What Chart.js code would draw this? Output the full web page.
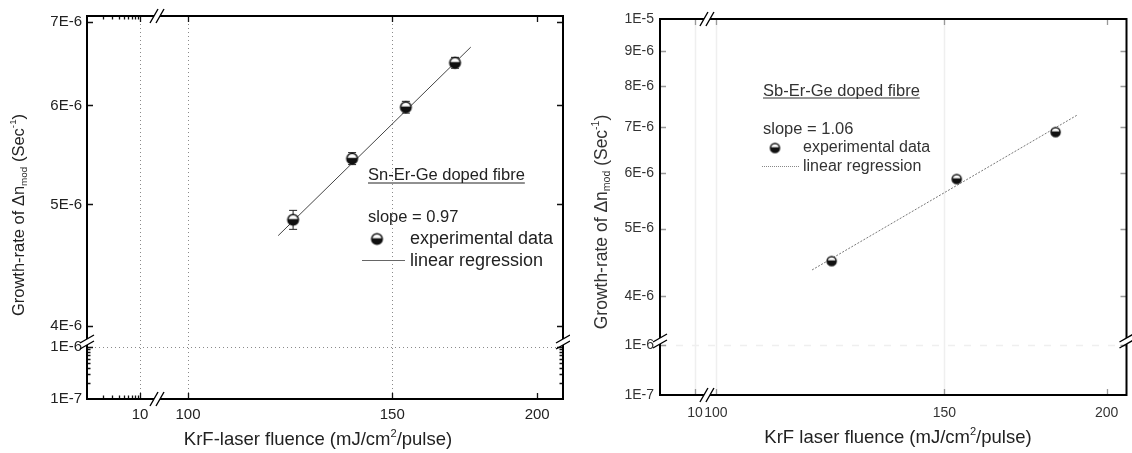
<!DOCTYPE html>
<html>
<head>
<meta charset="utf-8">
<script src="https://cdn.jsdelivr.net/npm/chart.js@4.4.0/dist/chart.umd.min.js"></script>
<style>
  html, body { margin: 0; padding: 0; background: #fff; }
  #wrap { position: relative; width: 1132px; height: 453px; }
  .box { position: absolute; top: 0; height: 453px; }
  #boxL { left: 0; width: 570px; }
  #boxR { left: 570px; width: 562px; }
</style>
</head>
<body>
<div id="wrap">
  <div class="box" id="boxL"><canvas id="leftChart"></canvas></div>
  <div class="box" id="boxR"><canvas id="rightChart"></canvas></div>
</div>
<script>
const log = Math.log10;

// Sn-Er-Ge doped fibre (left panel)
const snFluence = [123.2, 138.5, 154.1, 169.9];
const snRate = [4.86e-6, 5.44e-6, 5.98e-6, 6.49e-6];
const snErr = [0.085e-6, 0.06e-6, 0.065e-6, 0.065e-6];
const snFitFluence = [119.6, 175.3];
const snFitRate = [4.72e-6, 6.68e-6];

// Sb-Er-Ge doped fibre (right panel)
const sbFluence = [122.8, 153.3, 182.7];
const sbRate = [4.49e-6, 5.89e-6, 6.88e-6];
const sbFitFluence = [118.6, 189.9];
const sbFitRate = [4.36e-6, 7.28e-6];

// tick labels
const xTicksL = [10, 100, 150, 200];
const xLabelsL = ["10", "100", "150", "200"];
const yTicksL = [1e-7, 1e-6, 4e-6, 5e-6, 6e-6, 7e-6];
const yLabelsL = ["1E-7", "1E-6", "4E-6", "5E-6", "6E-6", "7E-6"];
const xTicksR = [10, 100, 150, 200];
const xLabelsR = ["10", "100", "150", "200"];
const yTicksR = [1e-7, 1e-6, 4e-6, 5e-6, 6e-6, 7e-6, 8e-6, 9e-6, 1e-5];
const yLabelsR = ["1E-7", "1E-6", "4E-6", "5E-6", "6E-6", "7E-6", "8E-6", "9E-6", "1E-5"];
const minorDigits = [2, 3, 4, 5, 6, 7, 8, 9];

// broken log axes: short decade below the break, stretched log scale above it
const xLeft = v => v <= 10 ? 53 * log(v) : 101 + 1160 * log(v / 100);
const yLeft = v => v <= 1e-6 ? 52 * log(v / 1e-7) : 73.5 + 1250 * log(v / 4e-6);
const xRight = v => v <= 10 ? 35 * log(v) : 56 + 1299 * log(v / 100);
const yRight = v => v <= 1e-6 ? 50 * log(v / 1e-7) : 99 + 696 * log(v / 4e-6);

const FONT = "'Liberation Sans', Arial, sans-serif";

function halfDot(r) {
  const c = document.createElement("canvas");
  const s = Math.ceil(2 * r + 4);
  c.width = c.height = s;
  const g = c.getContext("2d");
  const m = s / 2;
  g.fillStyle = "#fff";
  g.beginPath(); g.arc(m, m, r, 0, 2 * Math.PI); g.fill();
  g.fillStyle = "#111";
  g.beginPath(); g.arc(m, m, r, -0.15, Math.PI + 0.15); g.closePath(); g.fill();
  g.strokeStyle = "#111"; g.lineWidth = 1.5;
  g.beginPath(); g.arc(m, m, r, 0, 2 * Math.PI); g.stroke();
  return c;
}
const dotL = halfDot(5.3);
const dotR = halfDot(4.5);

// text with sub/superscripts: parts = [text, scale, shift(em)]
function richText(ctx, parts, cx, cy, size, color) {
  ctx.save();
  ctx.fillStyle = color;
  ctx.textBaseline = "middle";
  ctx.textAlign = "left";
  let w = 0;
  parts.forEach(p => { ctx.font = (size * p[1]) + "px " + FONT; w += ctx.measureText(p[0]).width; });
  let x = cx - w / 2;
  parts.forEach(p => {
    ctx.font = (size * p[1]) + "px " + FONT;
    ctx.fillText(p[0], x, cy + p[2] * size);
    x += ctx.measureText(p[0]).width;
  });
  ctx.restore();
}

function plainText(ctx, t, x, y, size, color, underline) {
  ctx.save();
  ctx.font = size + "px " + FONT;
  ctx.fillStyle = color;
  ctx.textBaseline = "middle";
  ctx.fillText(t, x, y);
  if (underline) {
    const w = ctx.measureText(t).width;
    ctx.strokeStyle = color; ctx.lineWidth = 1;
    ctx.beginPath(); ctx.moveTo(x, y + underline); ctx.lineTo(x + w, y + underline); ctx.stroke();
  }
  ctx.restore();
}

function makeDeco(cfg) {
  return {
    id: "deco",
    beforeDatasetsDraw(chart) {
      const ctx = chart.ctx, a = chart.chartArea;
      const sx = chart.scales.x, sy = chart.scales.y;
      ctx.save();
      ctx.strokeStyle = cfg.gridColor;
      ctx.lineWidth = cfg.gridWidth;
      ctx.setLineDash(cfg.gridDash);
      cfg.xGrid.forEach(v => {
        const px = Math.round(sx.getPixelForValue(cfg.xf(v))) + 0.5;
        ctx.beginPath(); ctx.moveTo(px, a.top); ctx.lineTo(px, a.bottom); ctx.stroke();
      });
      ctx.setLineDash(cfg.hGridDash);
      cfg.yGrid.forEach(v => {
        const py = Math.round(sy.getPixelForValue(cfg.yf(v))) + 0.5;
        ctx.beginPath(); ctx.moveTo(a.left, py); ctx.lineTo(a.right, py); ctx.stroke();
      });
      ctx.setLineDash([]);
      // error bars
      if (cfg.err) {
        ctx.strokeStyle = "#222"; ctx.lineWidth = 1;
        cfg.err.x.forEach((xv, i) => {
          const px = sx.getPixelForValue(cfg.xf(xv));
          const hi = sy.getPixelForValue(cfg.yf(cfg.err.y[i] + cfg.err.e[i]));
          const lo = sy.getPixelForValue(cfg.yf(cfg.err.y[i] - cfg.err.e[i]));
          ctx.beginPath();
          ctx.moveTo(px, hi); ctx.lineTo(px, lo);
          ctx.moveTo(px - 4, hi); ctx.lineTo(px + 4, hi);
          ctx.moveTo(px - 4, lo); ctx.lineTo(px + 4, lo);
          ctx.stroke();
        });
      }
      ctx.restore();
    },
    afterDatasetsDraw(chart) {
      const ctx = chart.ctx, a = chart.chartArea;
      const sx = chart.scales.x, sy = chart.scales.y;
      ctx.save();
      // inward tick marks
      ctx.strokeStyle = cfg.tickColor; ctx.lineWidth = 1.3;
      const xt = (v, len) => {
        const px = Math.round(sx.getPixelForValue(cfg.xf(v))) + 0.5;
        if (px < a.left + 2 || px > a.right - 2) return;
        ctx.beginPath();
        ctx.moveTo(px, a.bottom); ctx.lineTo(px, a.bottom - len);
        ctx.moveTo(px, a.top); ctx.lineTo(px, a.top + len);
        ctx.stroke();
      };
      const yt = (v, len) => {
        const py = Math.round(sy.getPixelForValue(cfg.yf(v))) + 0.5;
        if (py < a.top + 2 || py > a.bottom - 2) return;
        ctx.beginPath();
        ctx.moveTo(a.left, py); ctx.lineTo(a.left + len, py);
        ctx.moveTo(a.right, py); ctx.lineTo(a.right - len, py);
        ctx.stroke();
      };
      cfg.xMajor.forEach(v => xt(v, 6));
      cfg.xMinor.forEach(v => xt(v, 3.5));
      cfg.yMajor.forEach(v => yt(v, 6));
      cfg.yMinor.forEach(v => yt(v, 3.5));

      // frame
      ctx.strokeStyle = "#000"; ctx.lineWidth = 2;
      ctx.strokeRect(a.left, a.top, a.right - a.left, a.bottom - a.top);

      // axis breaks
      const bx = sx.getPixelForValue(cfg.xBreak);
      const by = sy.getPixelForValue(cfg.yBreak);
      ctx.lineWidth = 1.4;
      [a.top, a.bottom].forEach(y0 => {
        ctx.fillStyle = "#fff";
        ctx.fillRect(bx - 3, y0 - 2, 6, 4);
        ctx.beginPath();
        [-3, 3].forEach(d => { ctx.moveTo(bx + d - 4, y0 + 7); ctx.lineTo(bx + d + 4, y0 - 7); });
        ctx.stroke();
      });
      [a.left, a.right].forEach(x0 => {
        ctx.fillStyle = "#fff";
        ctx.fillRect(x0 - 2, by - 3, 4, 6);
        ctx.beginPath();
        [-3, 3].forEach(d => { ctx.moveTo(x0 - 7, by + d + 4); ctx.lineTo(x0 + 7, by + d - 4); });
        ctx.stroke();
      });
      ctx.restore();

      // annotations and legend
      cfg.draw(ctx);
    }
  };
}

function makeChart(id, cfg) {
  return new Chart(document.getElementById(id), {
    type: "scatter",
    data: { datasets: cfg.datasets },
    options: {
      responsive: true,
      maintainAspectRatio: false,
      animation: false,
      events: [],
      layout: { padding: cfg.padding },
      plugins: { legend: { display: false }, tooltip: { enabled: false } },
      scales: {
        x: {
          type: "linear", min: 0, max: cfg.xMax,
          grid: { display: false, drawTicks: false }, border: { display: false },
          afterBuildTicks: s => { s.ticks = cfg.xTicks.map(v => ({ value: cfg.xf(v) })); },
          afterFit: s => { s.height = cfg.xHeight; },
          ticks: {
            autoSkip: false, maxRotation: 0, minRotation: 0, padding: cfg.xPad,
            color: cfg.labelColor, font: { family: FONT, size: cfg.tickSize },
            callback: (v, i) => cfg.xLabels[i]
          }
        },
        y: {
          type: "linear", min: 0, max: cfg.yMax,
          grid: { display: false, drawTicks: false }, border: { display: false },
          afterBuildTicks: s => { s.ticks = cfg.yTicks.map(v => ({ value: cfg.yf(v) })); },
          afterFit: s => { s.width = cfg.yWidth; },
          ticks: {
            autoSkip: false, padding: cfg.yPad,
            color: cfg.labelColor, font: { family: FONT, size: cfg.tickSize },
            callback: (v, i) => cfg.yLabels[i]
          }
        }
      }
    },
    plugins: [makeDeco(cfg)]
  });
}

// LEFT PANEL
makeChart("leftChart", {
  xf: xLeft, yf: yLeft, xMax: 476, yMax: 383,
  padding: { left: 0, top: 16, right: 7, bottom: 0 },
  xHeight: 54, yWidth: 87, xPad: 7, yPad: 5, tickSize: 15, labelColor: "#222",
  xTicks: xTicksL, xLabels: xLabelsL, yTicks: yTicksL, yLabels: yLabelsL,
  xMajor: xTicksL, xMinor: minorDigits,
  yMajor: yTicksL, yMinor: minorDigits.map(d => d * 1e-7),
  xGrid: [10, 100, 150], yGrid: [1e-6],
  gridColor: "#8a8a8a", gridWidth: 1, gridDash: [1, 3], hGridDash: [1, 3],
  tickColor: "#111",
  xBreak: 70, yBreak: 57,
  err: { x: snFluence, y: snRate, e: snErr },
  datasets: [
    {
      data: snFluence.map((f, i) => ({ x: xLeft(f), y: yLeft(snRate[i]) })),
      pointStyle: dotL, pointRadius: 5, showLine: false
    },
    {
      type: "line",
      data: snFitFluence.map((f, i) => ({ x: xLeft(f), y: yLeft(snFitRate[i]) })),
      borderColor: "#444", borderWidth: 1, pointRadius: 0, fill: false
    }
  ],
  draw(ctx) {
    plainText(ctx, "Sn-Er-Ge doped fibre", 368, 175, 16.5, "#222", 8);
    plainText(ctx, "slope = 0.97", 368, 217, 16.5, "#222");
    ctx.drawImage(dotL, 377 - dotL.width / 2, 239 - dotL.height / 2);
    plainText(ctx, "experimental data", 410, 239, 18, "#222");
    ctx.save();
    ctx.strokeStyle = "#666"; ctx.lineWidth = 1;
    ctx.beginPath(); ctx.moveTo(362, 260.5); ctx.lineTo(405, 260.5); ctx.stroke();
    ctx.restore();
    plainText(ctx, "linear regression", 410, 261, 18, "#222");
    richText(ctx, [["KrF-laser fluence (mJ/cm", 1, 0], ["2", 0.6, -0.35], ["/pulse)", 1, 0]], 318, 440, 18.5, "#222");
    ctx.save();
    ctx.translate(19, 215); ctx.rotate(-Math.PI / 2);
    richText(ctx, [["Growth-rate of \u0394n", 1, 0], ["mod", 0.6, 0.3], [" (Sec", 1, 0], ["-1", 0.6, -0.35], [")", 1, 0]], 0, 0, 16.5, "#222");
    ctx.restore();
  }
});

// RIGHT PANEL
makeChart("rightChart", {
  xf: xRight, yf: yRight, xMax: 467, yMax: 376,
  padding: { left: 0, top: 19, right: 5, bottom: 0 },
  xHeight: 58, yWidth: 90, xPad: 10, yPad: 6, tickSize: 14, labelColor: "#333",
  xTicks: xTicksR, xLabels: xLabelsR, yTicks: yTicksR, yLabels: yLabelsR,
  xMajor: xTicksR, xMinor: [],
  yMajor: yTicksR, yMinor: [],
  xGrid: [10, 100, 150], yGrid: [1e-6],
  gridColor: "#efefef", gridWidth: 1.5, gridDash: [], hGridDash: [7, 9],
  tickColor: "#999",
  xBreak: 47, yBreak: 54,
  datasets: [
    {
      data: sbFluence.map((f, i) => ({ x: xRight(f), y: yRight(sbRate[i]) })),
      pointStyle: dotR, pointRadius: 4.5, showLine: false
    },
    {
      type: "line",
      data: sbFitFluence.map((f, i) => ({ x: xRight(f), y: yRight(sbFitRate[i]) })),
      borderColor: "#777", borderWidth: 1, borderDash: [2, 1.5], pointRadius: 0, fill: false
    }
  ],
  draw(ctx) {
    const o = -570;
    plainText(ctx, "Sb-Er-Ge doped fibre", 763 + o, 91, 16.5, "#333", 7);
    plainText(ctx, "slope = 1.06", 763 + o, 129, 16.5, "#333");
    ctx.drawImage(dotR, 775 + o - dotR.width / 2, 148 - dotR.height / 2);
    plainText(ctx, "experimental data", 803 + o, 148, 16, "#333");
    ctx.save();
    ctx.strokeStyle = "#888"; ctx.lineWidth = 1; ctx.setLineDash([1, 1]);
    ctx.beginPath(); ctx.moveTo(762 + o, 166.5); ctx.lineTo(799 + o, 166.5); ctx.stroke();
    ctx.restore();
    plainText(ctx, "linear regression", 803 + o, 167, 16, "#333");
    richText(ctx, [["KrF laser fluence (mJ/cm", 1, 0], ["2", 0.6, -0.35], ["/pulse)", 1, 0]], 898 + o, 438, 18.5, "#222");
    ctx.save();
    ctx.translate(602 + o, 222); ctx.rotate(-Math.PI / 2);
    richText(ctx, [["Growth-rate of \u0394n", 1, 0], ["mod", 0.6, 0.3], [" (Sec", 1, 0], ["-1", 0.6, -0.35], [")", 1, 0]], 0, 0, 17.5, "#333");
    ctx.restore();
  }
});
</script>
</body>
</html>
